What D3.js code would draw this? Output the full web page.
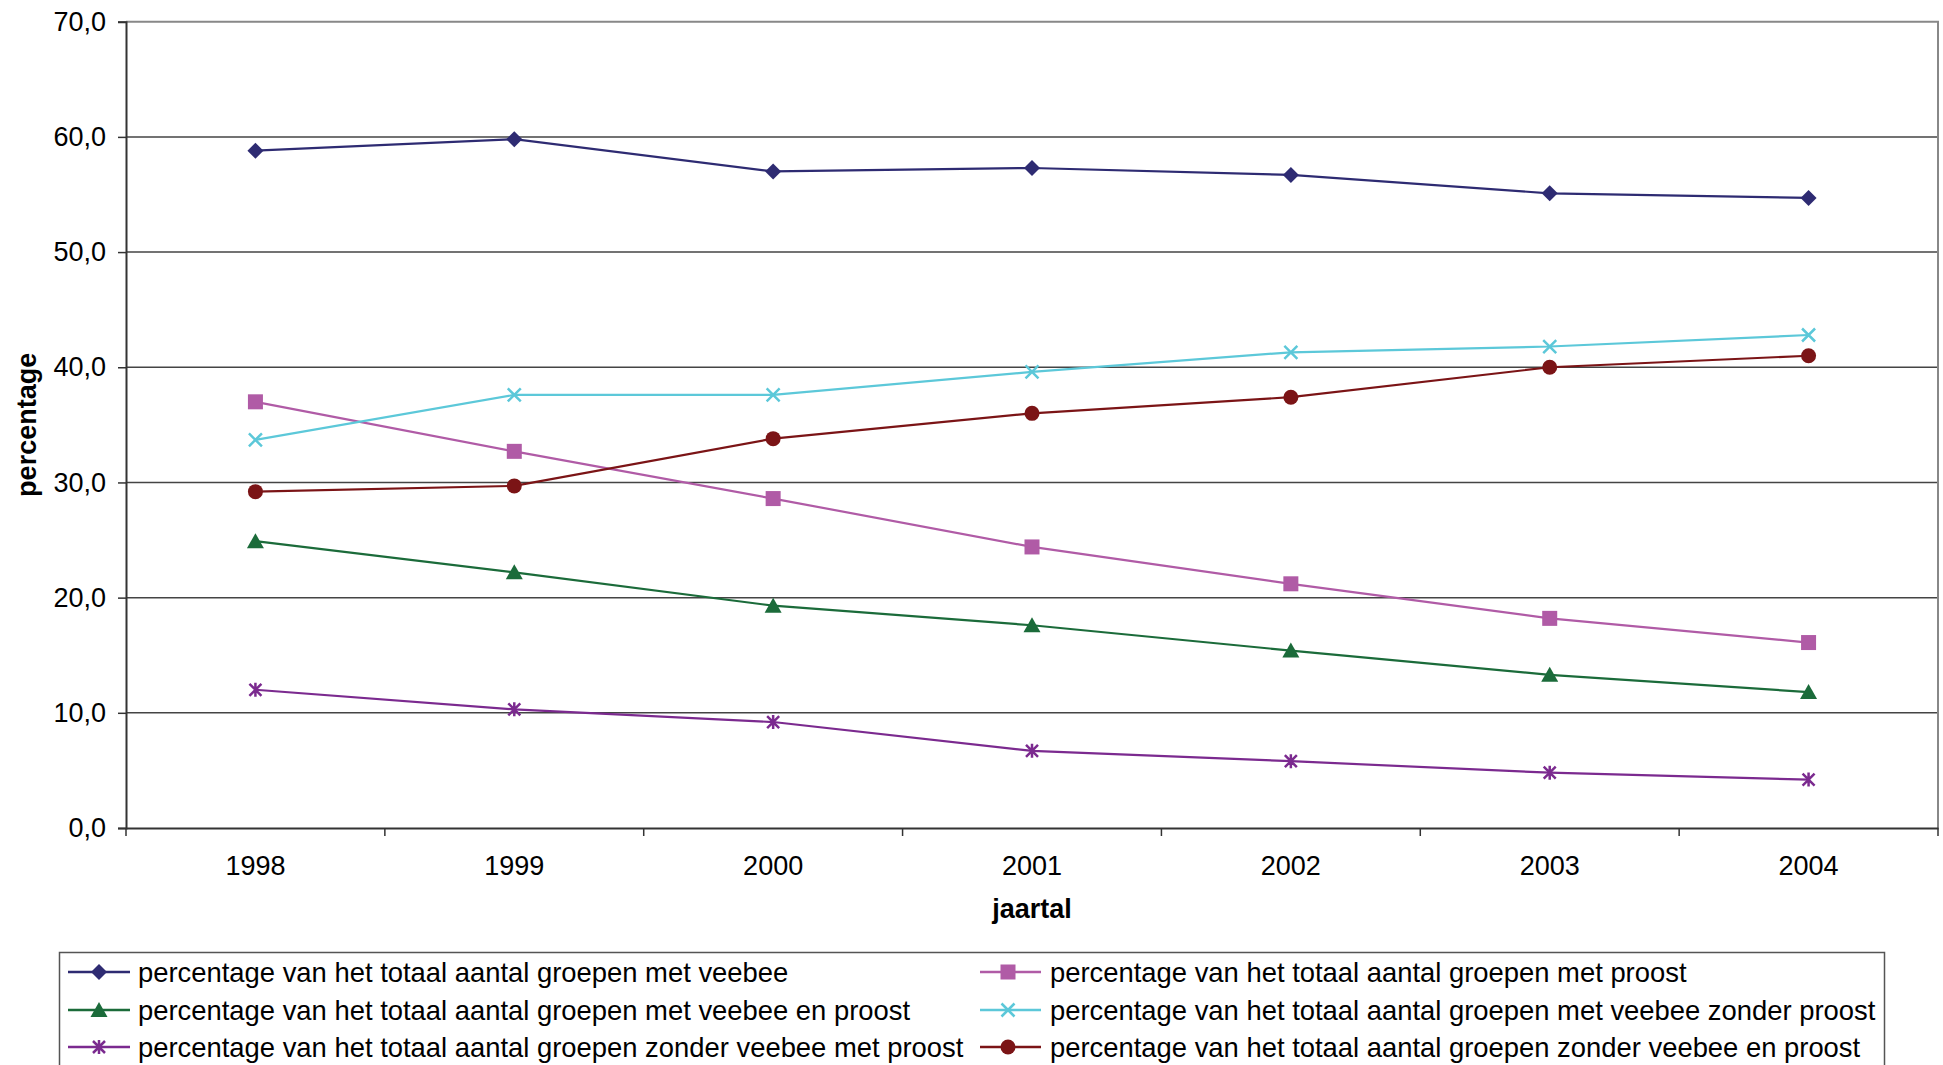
<!DOCTYPE html>
<html><head><meta charset="utf-8">
<script src="https://cdn.jsdelivr.net/npm/d3@7"></script>
<style>
html,body{margin:0;padding:0;background:#fff;}
text{font-family:"Liberation Sans",Arial,sans-serif;fill:#000;}
</style></head>
<body><svg id="c" width="1943" height="1065"></svg>
<script>
const years = ["1998","1999","2000","2001","2002","2003","2004"];
const yTicks = [0,10,20,30,40,50,60,70];
const sMetVeebee = [58.8,59.8,57.0,57.3,56.7,55.1,54.7];
const sMetProost = [37.0,32.7,28.6,24.4,21.2,18.2,16.1];
const sVeebeeEnProost = [24.9,22.2,19.3,17.6,15.4,13.3,11.8];
const sVeebeeZonderProost = [33.7,37.6,37.6,39.6,41.3,41.8,42.8];
const sZonderVeebeeMetProost = [12.0,10.3,9.2,6.7,5.8,4.8,4.2];
const sZonderVeebeeEnProost = [29.2,29.7,33.8,36.0,37.4,40.0,41.0];
const seriesNames = [
 "percentage van het totaal aantal groepen met veebee",
 "percentage van het totaal aantal groepen met proost",
 "percentage van het totaal aantal groepen met veebee en proost",
 "percentage van het totaal aantal groepen met veebee zonder proost",
 "percentage van het totaal aantal groepen zonder veebee met proost",
 "percentage van het totaal aantal groepen zonder veebee en proost"
];
const series = [
 {name:seriesNames[0], values:sMetVeebee, color:"#2e2b72", marker:"diamond"},
 {name:seriesNames[1], values:sMetProost, color:"#b05ba6", marker:"square"},
 {name:seriesNames[2], values:sVeebeeEnProost, color:"#1b6b3a", marker:"triangle"},
 {name:seriesNames[3], values:sVeebeeZonderProost, color:"#5cc8d9", marker:"x"},
 {name:seriesNames[4], values:sZonderVeebeeMetProost, color:"#7b2a8f", marker:"asterisk"},
 {name:seriesNames[5], values:sZonderVeebeeEnProost, color:"#7b1416", marker:"circle"}
];

const svg = d3.select("#c");
const L=126, R=1938, T=21.7, B=828;
const x = d3.scaleBand().domain(years).range([L,R]).paddingInner(0).paddingOuter(0);
const y = d3.scaleLinear().domain([0,70]).range([B,T]);
const cx = d => x(d)+x.bandwidth()/2;

// gridlines
svg.append("g").selectAll("line").data(yTicks.filter(v=>v>0 && v<70)).join("line")
 .attr("x1",L).attr("x2",R).attr("y1",d=>y(d)).attr("y2",d=>y(d))
 .attr("stroke","#444").attr("stroke-width",1.5);
// border top/right
svg.append("path").attr("d",`M${L},${y(70)}H${R}V${B}`).attr("fill","none").attr("stroke","#888").attr("stroke-width",2);

// y axis
const ya = svg.append("g").attr("transform",`translate(${L},0)`)
 .call(d3.axisLeft(y).tickValues(yTicks).tickSize(8).tickPadding(12)
 .tickFormat(d=>d.toFixed(1).replace(".",",")));
ya.select(".domain").attr("stroke","#333").attr("stroke-width",2);
ya.selectAll(".tick line").attr("stroke","#333").attr("stroke-width",1.5);
ya.selectAll("text").attr("font-size",27).attr("font-family","Liberation Sans, Arial, sans-serif").attr("fill","#000");

// x axis
const xa = svg.append("g").attr("transform",`translate(0,${B})`)
 .call(d3.axisBottom(x).tickSize(0).tickPadding(28));
xa.select(".domain").attr("stroke","#333").attr("stroke-width",2);
xa.selectAll("text").attr("font-size",27).attr("font-family","Liberation Sans, Arial, sans-serif").attr("fill","#000");
// boundary ticks
const bounds = years.map(d=>x(d)).concat([x(years[years.length-1])+x.bandwidth()]);
svg.append("g").selectAll("line").data(bounds).join("line")
 .attr("x1",d=>d).attr("x2",d=>d).attr("y1",B).attr("y2",B+8)
 .attr("stroke","#333").attr("stroke-width",1.5);

// axis titles
svg.append("text").attr("transform",`translate(36,${(T+B)/2}) rotate(-90)`)
 .attr("text-anchor","middle").attr("font-size",27).attr("font-weight","bold").text("percentage");
svg.append("text").attr("x",(L+R)/2).attr("y",918).attr("text-anchor","middle")
 .attr("font-size",27).attr("font-weight","bold").text("jaartal");

function drawMarker(g, type, color, px, py){
  const s=8;
  if(type==="diamond") g.append("path").attr("d",`M${px},${py-s}L${px+s},${py}L${px},${py+s}L${px-s},${py}Z`).attr("fill",color);
  else if(type==="square") g.append("rect").attr("x",px-7.5).attr("y",py-7.5).attr("width",15).attr("height",15).attr("fill",color);
  else if(type==="triangle") g.append("path").attr("d",`M${px},${py-8}L${px+8.5},${py+7}L${px-8.5},${py+7}Z`).attr("fill",color);
  else if(type==="circle") g.append("circle").attr("cx",px).attr("cy",py).attr("r",7.5).attr("fill",color);
  else if(type==="x") g.append("path").attr("d",`M${px-6.5},${py-6.5}L${px+6.5},${py+6.5}M${px-6.5},${py+6.5}L${px+6.5},${py-6.5}`).attr("stroke",color).attr("stroke-width",2.5);
  else if(type==="asterisk") g.append("path").attr("d",`M${px-6},${py-6}L${px+6},${py+6}M${px-6},${py+6}L${px+6},${py-6}M${px},${py-7}L${px},${py+7}`).attr("stroke",color).attr("stroke-width",2.5);
}

const line = d3.line().x((d,i)=>cx(years[i])).y(d=>y(d));
series.forEach(s=>{
  const g = svg.append("g");
  g.append("path").attr("d",line(s.values)).attr("fill","none").attr("stroke",s.color).attr("stroke-width",2.2);
  s.values.forEach((v,i)=>drawMarker(g,s.marker,s.color,cx(years[i]),y(v)));
});

// legend
const lg = svg.append("g");
lg.append("rect").attr("x",59.5).attr("y",952.5).attr("width",1825).attr("height",140)
 .attr("fill","#fff").attr("stroke","#555").attr("stroke-width",1.5);
const cols=[{lx1:68,lx2:130,mx:99,tx:138},{lx1:980,lx2:1041,mx:1008,tx:1050}];
const rows=[972,1010,1047];
series.forEach((s,i)=>{
  const c=cols[i%2], r=rows[Math.floor(i/2)];
  lg.append("line").attr("x1",c.lx1).attr("x2",c.lx2).attr("y1",r).attr("y2",r).attr("stroke",s.color).attr("stroke-width",2.5);
  drawMarker(lg,s.marker,s.color,c.mx,r);
  lg.append("text").attr("x",c.tx).attr("y",r).attr("dy","0.35em").attr("font-size",27.4).text(s.name);
});
</script></body></html>
